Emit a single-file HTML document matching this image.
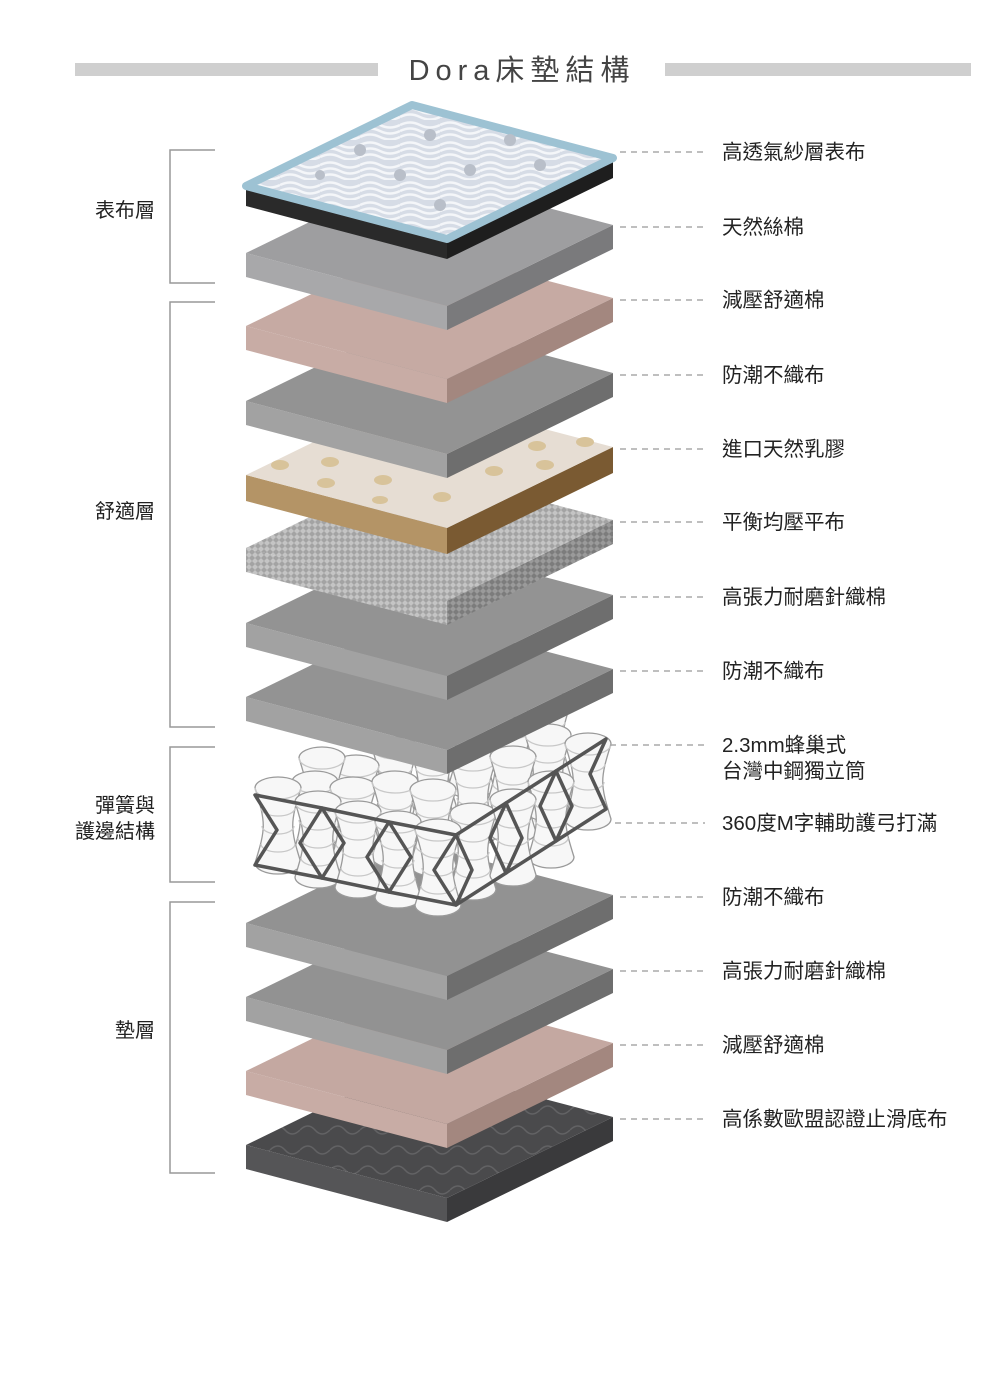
<!DOCTYPE html>
<html><head><meta charset="utf-8"><style>
html,body{margin:0;padding:0;background:#fff;}
body{width:1000px;height:1389px;overflow:hidden;position:relative;font-family:"Liberation Sans","Noto Sans CJK TC",sans-serif;}
</style></head><body>
<svg width="1000" height="1389" viewBox="0 0 1000 1389" xmlns="http://www.w3.org/2000/svg" style="position:absolute;left:0;top:0">
<defs>
<pattern id="knit" width="6" height="6" patternUnits="userSpaceOnUse"><rect width="6" height="6" fill="#a3a3a3"/><path d="M0 3 L3 0 L6 3 L3 6Z" fill="#c4c4c4"/></pattern>
<pattern id="knitd" width="6" height="6" patternUnits="userSpaceOnUse"><rect width="6" height="6" fill="#7c7c7c"/><path d="M0 3 L3 0 L6 3 L3 6Z" fill="#9a9a9a"/></pattern>
<pattern id="quilt" width="40" height="20" patternUnits="userSpaceOnUse"><rect width="40" height="20" fill="#d6dce6"/><path d="M0 5 Q10 0 20 5 T40 5 M0 11 Q10 6 20 11 T40 11 M0 17 Q10 12 20 17 T40 17" stroke="#f4f6f9" stroke-width="2.5" fill="none"/></pattern>
<pattern id="dark" width="30" height="20" patternUnits="userSpaceOnUse"><rect width="30" height="20" fill="#4a4a4c"/><path d="M0 10 Q8 2 15 10 T30 10" stroke="#626264" stroke-width="1.5" fill="none"/></pattern>
</defs>
<rect x="75" y="63" width="303" height="13" fill="#cfcfcf"/>
<rect x="665" y="63" width="306" height="13" fill="#cfcfcf"/>
<text x="522" y="80" text-anchor="middle" font-size="29" fill="#444" letter-spacing="6" font-family="Liberation Sans, Noto Sans CJK TC, sans-serif">Dora床墊結構</text>

<g stroke="#999" stroke-width="1.5" fill="none">
<path d="M215 150 H170 V283 H215"/>
<path d="M215 302 H170 V727 H215"/>
<path d="M215 747 H170 V882 H215"/>
<path d="M215 902 H170 V1173 H215"/>
</g>
<g font-size="20" fill="#222" text-anchor="end" font-family="Liberation Sans, Noto Sans CJK TC, sans-serif">
<text x="155" y="217">表布層</text>
<text x="155" y="518">舒適層</text>
<text x="155" y="812">彈簧與</text>
<text x="155" y="838">護邊結構</text>
<text x="155" y="1037">墊層</text>
</g>

<polygon points="246,1145 447,1198 447,1222 246,1169" fill="#555557"/>
<polygon points="447,1198 613,1117 613,1141 447,1222" fill="#3a3a3c"/>
<polygon points="412,1064 613,1117 447,1198 246,1145" fill="url(#dark)"/>
<polygon points="246,1071 447,1124 447,1148 246,1095" fill="#c8aca5"/>
<polygon points="447,1124 613,1043 613,1067 447,1148" fill="#a3877f"/>
<polygon points="412,990 613,1043 447,1124 246,1071" fill="#c4a8a1"/>
<polygon points="246,997 447,1050 447,1074 246,1021" fill="#a2a2a2"/>
<polygon points="447,1050 613,969 613,993 447,1074" fill="#6e6e6e"/>
<polygon points="412,916 613,969 447,1050 246,997" fill="#929292"/>
<polygon points="246,923 447,976 447,1000 246,947" fill="#a2a2a2"/>
<polygon points="447,976 613,895 613,919 447,1000" fill="#6e6e6e"/>
<polygon points="412,842 613,895 447,976 246,923" fill="#929292"/>

<g stroke="#9a9a9a" stroke-width="1.3" fill="#f7f7f7">
<g id="sp" transform="translate(433,730)"><path d="M-23 0 C-12 35 -12 40 -23 75 A23 11 0 0 0 23 75 C12 40 12 35 23 0 A23 11 0 0 0 -23 0 Z"/><path d="M-23 0 A23 11 0 0 0 23 0 M-17 20 A17 8 0 0 0 17 20 M-16 38 A16 8 0 0 0 16 38 M-17 56 A17 8 0 0 0 17 56" fill="none" stroke="#c8c8c8"/></g>
<use href="#sp" transform="translate(-38,18)"/>
<use href="#sp" transform="translate(38,-18)"/>
<use href="#sp" transform="translate(115,-28)"/>
<use href="#sp" transform="translate(-77,36)"/>
<use href="#sp" transform="translate(-111,28)"/>
<use href="#sp" transform="translate(0,18)"/>
<use href="#sp" transform="translate(77,-2)"/>
<use href="#sp" transform="translate(115,5)"/>
<use href="#sp" transform="translate(-118,52)"/>
<use href="#sp" transform="translate(-80,58)"/>
<use href="#sp" transform="translate(-38,52)"/>
<use href="#sp" transform="translate(40,30)"/>
<use href="#sp" transform="translate(80,27)"/>
<use href="#sp" transform="translate(155,14)"/>
<use href="#sp" transform="translate(-155,58)"/>
<use href="#sp" transform="translate(-115,72)"/>
<use href="#sp" transform="translate(-75,82)"/>
<use href="#sp" transform="translate(0,60)"/>
<use href="#sp" transform="translate(-35,92)"/>
<use href="#sp" transform="translate(40,84)"/>
<use href="#sp" transform="translate(5,100)"/>
<use href="#sp" transform="translate(118,52)"/>
<use href="#sp" transform="translate(80,70)"/>
</g>
<g stroke="#555" stroke-width="3.5" fill="none" stroke-linejoin="round">
<path d="M255 795 L322 808 L300 843 L322 878 L255 865 L277 830 Z"/>
<path d="M322 808 L389 822 L367 857 L389 892 L322 878 L344 843 Z"/>
<path d="M389 822 L456 835 L434 870 L456 905 L389 892 L411 857 Z"/>
<path d="M456 835 L506 803 L490 838 L506 873 L456 905 L472 870 Z"/>
<path d="M506 803 L556 771 L540 806 L556 841 L506 873 L522 838 Z"/>
<path d="M556 771 L606 739 L590 774 L606 809 L556 841 L572 806 Z"/>
</g>

<polygon points="246,697 447,750 447,774 246,721" fill="#a2a2a2"/>
<polygon points="447,750 613,669 613,693 447,774" fill="#6e6e6e"/>
<polygon points="412,616 613,669 447,750 246,697" fill="#939393"/>
<polygon points="246,623 447,676 447,700 246,647" fill="#a2a2a2"/>
<polygon points="447,676 613,595 613,619 447,700" fill="#6e6e6e"/>
<polygon points="412,542 613,595 447,676 246,623" fill="#939393"/>
<polygon points="246,548 447,601 447,625 246,572" fill="url(#knit)"/>
<polygon points="447,601 613,520 613,544 447,625" fill="url(#knitd)"/>
<polygon points="412,467 613,520 447,601 246,548" fill="url(#knit)"/>
<polygon points="246,475 447,528 447,554 246,501" fill="#b49466"/>
<polygon points="447,528 613,447 613,473 447,554" fill="#7a5a32"/>
<polygon points="412,394 613,447 447,528 246,475" fill="#e6ddd3"/>
<g fill="#d8c39a">
<ellipse cx="280" cy="465" rx="9" ry="5"/><ellipse cx="330" cy="462" rx="9" ry="5"/><ellipse cx="383" cy="480" rx="9" ry="5"/>
<ellipse cx="326" cy="483" rx="9" ry="5"/><ellipse cx="442" cy="497" rx="9" ry="5"/><ellipse cx="494" cy="471" rx="9" ry="5"/>
<ellipse cx="545" cy="465" rx="9" ry="5"/><ellipse cx="537" cy="446" rx="9" ry="5"/><ellipse cx="585" cy="442" rx="9" ry="5"/>
<ellipse cx="380" cy="500" rx="8" ry="4"/>
</g>
<polygon points="246,401 447,454 447,478 246,425" fill="#a2a2a2"/>
<polygon points="447,454 613,373 613,397 447,478" fill="#6e6e6e"/>
<polygon points="412,320 613,373 447,454 246,401" fill="#939393"/>
<polygon points="246,326 447,379 447,403 246,350" fill="#c8aca5"/>
<polygon points="447,379 613,298 613,322 447,403" fill="#a3877f"/>
<polygon points="412,245 613,298 447,379 246,326" fill="#c6aaa3"/>
<polygon points="246,253 447,306 447,330 246,277" fill="#a8a8aa"/>
<polygon points="447,306 613,225 613,249 447,330" fill="#7a7a7c"/>
<polygon points="412,172 613,225 447,306 246,253" fill="#9e9ea0"/>
<polygon points="246,186 447,239 447,259 246,206" fill="#2a2a2a"/>
<polygon points="447,239 613,158 613,178 447,259" fill="#1e1e1e"/>
<polygon points="412,105 613,158 447,239 246,186" fill="url(#quilt)" stroke="#9dc2d3" stroke-width="8" stroke-linejoin="round"/>
<g fill="#b9bfc9"><circle cx="360" cy="150" r="6"/><circle cx="430" cy="135" r="6"/><circle cx="510" cy="140" r="6"/><circle cx="400" cy="175" r="6"/><circle cx="470" cy="170" r="6"/><circle cx="540" cy="165" r="6"/><circle cx="320" cy="175" r="5"/><circle cx="440" cy="205" r="6"/></g>

<g stroke="#999" stroke-width="1.3" stroke-dasharray="6,5">
<path d="M620 152 H705"/><path d="M620 227 H705"/><path d="M620 300 H705"/><path d="M620 375 H705"/>
<path d="M620 449 H705"/><path d="M620 522 H705"/><path d="M620 597 H705"/><path d="M620 671 H705"/>
<path d="M610 745 H705"/><path d="M615 823 H705"/><path d="M620 897 H705"/><path d="M620 971 H705"/>
<path d="M620 1045 H705"/><path d="M620 1119 H705"/>
</g>
<g font-size="20.5" fill="#222" font-family="Liberation Sans, Noto Sans CJK TC, sans-serif">
<text x="722" y="159">高透氣紗層表布</text>
<text x="722" y="234">天然絲棉</text>
<text x="722" y="307">減壓舒適棉</text>
<text x="722" y="382">防潮不織布</text>
<text x="722" y="456">進口天然乳膠</text>
<text x="722" y="529">平衡均壓平布</text>
<text x="722" y="604">高張力耐磨針織棉</text>
<text x="722" y="678">防潮不織布</text>
<text x="722" y="752">2.3mm蜂巢式</text>
<text x="722" y="778">台灣中鋼獨立筒</text>
<text x="722" y="830">360度M字輔助護弓打滿</text>
<text x="722" y="904">防潮不織布</text>
<text x="722" y="978">高張力耐磨針織棉</text>
<text x="722" y="1052">減壓舒適棉</text>
<text x="722" y="1126">高係數歐盟認證止滑底布</text>
</g>
</svg>
</body></html>
